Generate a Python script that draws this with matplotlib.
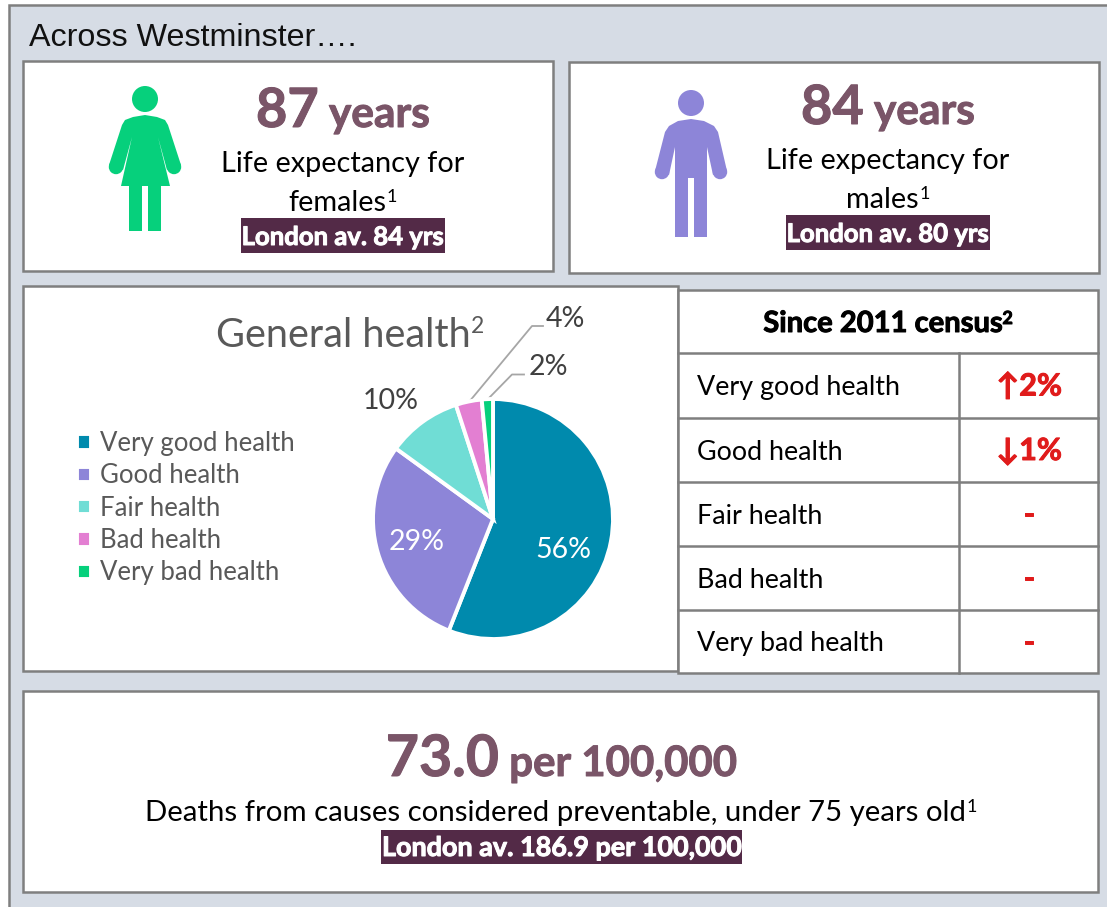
import matplotlib
matplotlib.use("Agg")
import matplotlib.pyplot as plt
import matplotlib.patheffects as pe
from matplotlib.patches import Rectangle, Circle, Polygon

# === DATA ===
categories = ["Very good health", "Good health", "Fair health", "Bad health", "Very bad health"]
shares = [56, 29, 10, 3.5, 1.5]
share_labels = ["56%", "29%", "10%", "4%", "2%"]
changes = ["↑2%", "↓1%", "-", "-", "-"]
pie_colors = ["#008AAD", "#8D85D8", "#70DDD5", "#E37FD2", "#06D07C"]

life_female = "87"
life_male = "84"
london_female = "London av. 84 yrs"
london_male = "London av. 80 yrs"
preventable = "73.0"
london_preventable = "London av. 186.9 per 100,000"

# === STYLE ===
FONT = ["Lato", "DejaVu Sans"]
GREY = "#7F7F7F"
BG = "#D6DCE5"
MAUVE = "#7A5568"
DARK = "#532A47"
LABEL = "#595959"
RED = "#E01B1B"

fig = plt.figure(figsize=(11.07, 9.07), dpi=100)
ax = fig.add_axes([0, 0, 1, 1])
ax.set_xlim(0, 1107)
ax.set_ylim(907, 0)
ax.axis("off")
renderer = fig.canvas.get_renderer()


def box(x0, y0, x1, y1, face="white", edge=GREY, lw=1.8):
    ax.add_patch(Rectangle((x0, y0), x1 - x0, y1 - y0, facecolor=face, edgecolor=edge, linewidth=lw))


def line_of_text(cx, y, parts):
    # parts: (text, size, color, bold, raise in px), all on one baseline
    items = []
    total = 0
    for s, size, color, bold, up in parts:
        t = ax.text(0, y - up, s, fontsize=size, color=color, family=FONT, va="baseline", ha="left",
                    fontweight="bold" if bold else "normal")
        if bold:
            # Lato bold is lighter than the original face
            t.set_path_effects([pe.withStroke(linewidth=0.7, foreground=color)])
        w = t.get_window_extent(renderer).width
        items.append((t, w))
        total += w
    x = cx - total / 2
    for t, w in items:
        t.set_x(x)
        x += w


# outer panel
box(9, 5, 1130, 930, face=BG)
ax.text(29, 46, "Across Westminster….", fontsize=23.2, family="Liberation Sans", color="#111111", va="baseline")

# top boxes
box(23, 61, 553, 271)
box(569, 62, 1099, 273)
box(23, 286, 678, 671)
box(23, 691, 1098, 892)

# female icon
GREEN = pie_colors[4]
for c, r in [((145, 99), 13), ((116, 167), 7.2), ((174, 167), 7.2)]:
    ax.add_patch(Circle(c, r, color=GREEN, lw=0))
ax.add_patch(Polygon([(133, 117), (145, 115), (157, 117), (165, 120), (168, 125), (181, 165), (167, 170),
                      (158, 137), (170, 186), (161, 186), (161, 231), (148, 231), (148, 186), (142, 186),
                      (142, 231), (129, 231), (129, 186), (121, 186), (132, 137), (123, 170),
                      (109, 165), (122, 125), (125, 120)], color=GREEN, lw=0))

# male icon
PURPLE = pie_colors[1]
for c, r in [((691, 103), 13), ((662, 172), 7.2), ((720, 172), 7.2)]:
    ax.add_patch(Circle(c, r, color=PURPLE, lw=0))
ax.add_patch(Polygon([(678, 121), (691, 119), (704, 121), (714, 126), (718, 132), (727, 171), (713, 175),
                      (707, 147), (707, 237), (694, 237), (694, 178), (688, 178), (688, 237), (675, 237),
                      (675, 147), (669, 175), (655, 171), (665, 132), (669, 126)], color=PURPLE, lw=0))

# life expectancy text
line_of_text(343, 127, [(life_female, 39, MAUVE, True, 0), (" years", 30.5, MAUVE, True, 0)])
line_of_text(343, 172, [("Life expectancy for", 20.8, "black", False, 0)])
line_of_text(343, 211, [("females", 20.8, "black", False, 0), ("1", 13, "black", False, 9)])
ax.add_patch(Rectangle((241, 218), 204, 35, color=DARK, lw=0))
line_of_text(343, 245, [(london_female, 18.5, "white", True, 0)])

line_of_text(888, 124, [(life_male, 39, MAUVE, True, 0), (" years", 30.5, MAUVE, True, 0)])
line_of_text(888, 169, [("Life expectancy for", 20.8, "black", False, 0)])
line_of_text(888, 208, [("males", 20.8, "black", False, 0), ("1", 13, "black", False, 9)])
ax.add_patch(Rectangle((786, 215), 204, 35, color=DARK, lw=0))
line_of_text(888, 242, [(london_male, 18.5, "white", True, 0)])

# pie
pie_ax = fig.add_axes([373 / 1107, 1 - 639 / 907, 240 / 1107, 240 / 907])
wedges, _ = pie_ax.pie(shares, colors=pie_colors, startangle=90, counterclock=False, radius=1,
                       wedgeprops={"edgecolor": "white", "linewidth": 2.8})
pie_ax.set_xlim(-1, 1)
pie_ax.set_ylim(-1, 1)
for w in wedges:
    w.set_clip_on(False)

line_of_text(350, 347, [("General health", 28.5, LABEL, False, 0), ("2", 16.5, LABEL, False, 14)])

fig.legend(wedges, categories, loc="upper left", bbox_to_anchor=(54 / 1107, 1 - 408 / 907), frameon=False,
           prop={"family": FONT, "size": 18.5}, labelcolor=LABEL, handlelength=0.55, handleheight=0.55,
           handletextpad=0.35, labelspacing=0.285)

# pie labels and leader lines
ax.plot([469, 532, 543], [402, 326, 326], color="#A6A6A6", lw=1.3)
ax.plot([488, 512, 524], [399, 374.5, 374.5], color="#A6A6A6", lw=1.3)
label_pos = [(563, 558, "white"), (417, 550, "white"), (391, 409, "#404040"), (565, 327, "#404040"), (548, 375, "#404040")]
for lab, (lx, ly, c) in zip(share_labels, label_pos):
    pie_ax.text(lx, ly, lab, fontsize=20.5, color=c, family=FONT, ha="center", va="baseline",
                transform=ax.transData, clip_on=False)

# census table
row_y = [290, 353, 418, 482, 546, 610, 673]
box(678, 290, 1098, 673)
for y in row_y[1:-1]:
    ax.plot([678, 1098], [y, y], color=GREY, lw=1.8)
ax.plot([959, 959], [row_y[1], row_y[-1]], color=GREY, lw=1.8)
line_of_text(888, 332, [("Since 2011 census", 21, "black", True, 0), ("2", 13, "black", True, 8)])
for i, (cat, ch) in enumerate(zip(categories, changes)):
    base = (row_y[i + 1] + row_y[i + 2]) / 2 + 10
    ax.text(697, base, cat, fontsize=19.4, color="black", family=FONT, va="baseline")
    line_of_text(1029, base, [(ch, 22, RED, True, 0)])

# bottom box
line_of_text(561, 776, [(preventable, 41.2, MAUVE, True, 0), (" per 100,000", 30.2, MAUVE, True, 0)])
line_of_text(561, 821, [("Deaths from causes considered preventable, under 75 years old", 21.2, "black", False, 0),
                        ("1", 13, "black", False, 9)])
ax.add_patch(Rectangle((381, 830), 361, 34, color=DARK, lw=0))
line_of_text(561, 856, [(london_preventable, 19.4, "white", True, 0)])

plt.savefig("out.png", dpi=100)
